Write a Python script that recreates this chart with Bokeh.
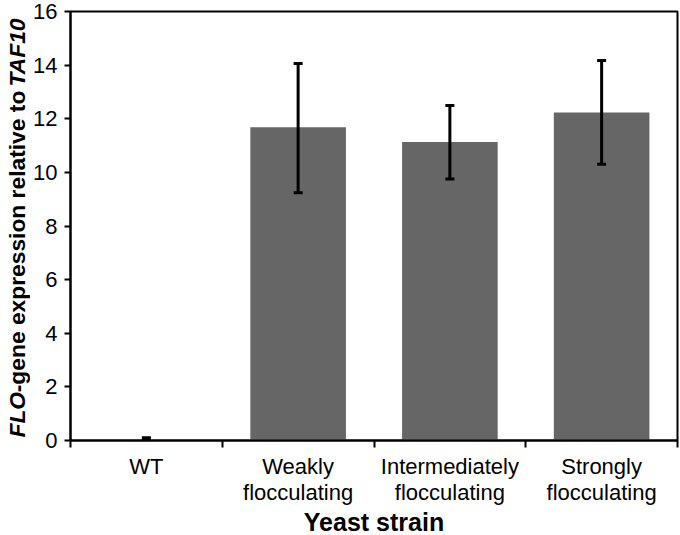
import math
from bokeh.plotting import figure
from bokeh.layouts import row
from bokeh.models import ColumnDataSource, Whisker, TeeHead, FixedTicker, Range1d
from bokeh.core.properties import value
from bokeh.embed import file_html
from bokeh.resources import INLINE

# ---- data ----
strains = ["WT", "Weakly flocculating", "Intermediately flocculating", "Strongly flocculating"]
strain_labels = ["WT", "Weakly\nflocculating", "Intermediately\nflocculating", "Strongly\nflocculating"]
expression = [0.02, 11.68, 11.13, 12.23]
err_upper = [0.10, 14.06, 12.49, 14.17]
err_lower = [0.0, 9.24, 9.75, 10.30]
y_ticks = [0, 2, 4, 6, 8, 10, 12, 14, 16]
ylabel_parts = ["FLO", "-gene expression relative to ", "TAF10"]
ylabel_styles = ["bold italic", "bold", "bold italic"]
ylabel_widths = [2000, 13505, 3056]  # Arial/Liberation bold advance widths (1/1000 em)

FONT = "Liberation Sans"
BAR = "#666666"
W, H = 680, 535
SIDE = 30

n = len(strains)
xs = [i + 0.5 for i in range(n)]
src = ColumnDataSource(dict(x=xs, top=expression, upper=err_upper, lower=err_lower))

FW, FH = 607, 429
yr = Range1d(0, 16)
p = figure(width=W - SIDE, height=H, output_backend="svg", toolbar_location=None,
           x_range=Range1d(0, n), y_range=yr,
           min_border_left=69 - SIDE, min_border_right=4, min_border_top=11, min_border_bottom=95,
           frame_width=FW, frame_height=FH)
p.background_fill_color = "white"
p.border_fill_color = "white"
p.outline_line_color = "black"
p.outline_line_width = 2
p.xgrid.visible = False
p.ygrid.visible = False

p.vbar(x="x", top="top", width=0.63, source=src, fill_color=BAR, line_color=None)

wh = Whisker(base="x", upper="upper", lower="lower", source=src,
             line_color="black", line_width=3, level="overlay",
             upper_head=TeeHead(size=9, line_width=3, line_color="black"),
             lower_head=TeeHead(size=9, line_width=3, line_color="black"))
p.add_layout(wh)

# y axis
ya = p.yaxis[0]
ya.ticker = FixedTicker(ticks=y_ticks)
ya.axis_line_width = 2
ya.major_tick_line_width = 2
ya.major_tick_out = 6
ya.major_tick_in = 0
ya.minor_tick_line_color = None
ya.major_label_text_font = FONT
ya.major_label_text_font_size = "22px"
ya.major_label_text_color = "black"
ya.major_label_standoff = 7
ya.axis_label = None

# x axis
xa = p.xaxis[0]
xa.ticker = FixedTicker(ticks=xs, minor_ticks=list(range(n + 1)))
xa.major_label_overrides = {x: lab for x, lab in zip(xs, strain_labels)}
xa.axis_line_width = 2
xa.major_tick_out = 0
xa.major_tick_in = 0
xa.minor_tick_out = 7
xa.minor_tick_in = 0
xa.minor_tick_line_width = 2
xa.minor_tick_line_color = "black"
xa.major_label_text_font = FONT
xa.major_label_text_font_size = "22px"
xa.major_label_text_line_height = 1.05
xa.major_label_text_color = "black"
xa.major_label_standoff = 6
xa.axis_label = "Yeast strain"
xa.axis_label_text_font = FONT
xa.axis_label_text_font_style = "bold"
xa.axis_label_text_font_size = "25px"
xa.axis_label_text_color = "black"
xa.axis_label_standoff = 0

# side panel carrying the y-axis title (mixed bold / bold-italic); its frame is
# aligned with the main frame by the row layout, so it shares the y range
fs = 22.8
side = figure(width=SIDE, height=H, output_backend="svg", toolbar_location=None,
              x_range=Range1d(0, SIDE), y_range=yr,
              min_border_left=0, min_border_right=0, min_border_top=11, min_border_bottom=95)
side.axis.visible = False
side.grid.visible = False
side.outline_line_color = None
side.background_fill_color = "white"
side.border_fill_color = "white"
units_per_px = (yr.end - yr.start) / FH
starts = []
pos = 0.0
for w in ylabel_widths:
    starts.append(pos)
    pos += w / 1000 * fs * units_per_px
lab_src = ColumnDataSource(dict(x=[16.5] * len(ylabel_parts), y=starts, text=ylabel_parts, style=ylabel_styles))
side.text(x="x", y="y", text="text", source=lab_src, angle=math.pi / 2,
          text_font=value(FONT), text_font_style="style", text_font_size=value(f"{fs}px"),
          text_align="left", text_baseline="alphabetic", text_color="black")

layout = row(side, p, spacing=0)
open("out.html", "w").write(file_html(layout, INLINE))
